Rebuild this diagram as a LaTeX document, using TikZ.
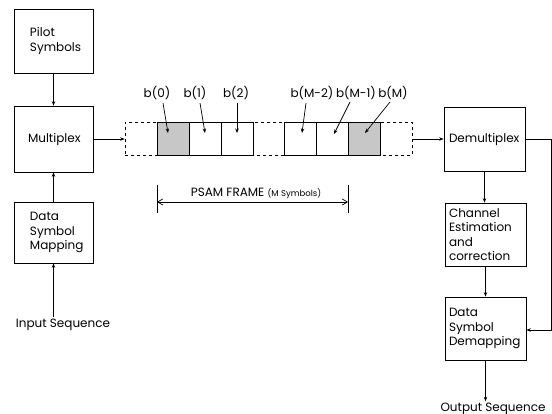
\documentclass[tikz,border=0pt]{standalone}
\usepackage{fontspec}
\setmainfont{Poppins}
\usetikzlibrary{arrows.meta}
\begin{document}
\begin{tikzpicture}[x=1pt,y=-1pt,
  box/.style={draw,line width=0.7pt,rectangle,align=left,font=\fontsize{12}{14.5}\selectfont},
  lbox/.style={box,minimum width=79pt,text width=79pt,inner xsep=0pt},
  rbox/.style={box,minimum width=81pt,text width=77pt,inner xsep=2pt},
  cell/.style={draw,line width=0.7pt,minimum width=32pt,minimum height=33pt,inner sep=0pt},
  shaded/.style={cell,fill=black!22},
  lbl/.style={font=\fontsize{12}{13}\selectfont,inner sep=1pt},
  conn/.style={line width=0.7pt,-{Stealth[length=4.5pt,width=3.5pt]}},
  plain/.style={line width=0.7pt}]
\useasboundingbox (0,0) rectangle (552,414);
% left column
\node[lbox,minimum height=64pt] (pilot) at (53.5,41) {\hspace*{16pt}Pilot\\\hspace*{16pt}Symbols};
\node[lbox,minimum height=66pt] (mux) at (53.5,139) {\hspace*{14pt}Multiplex};
\node[lbox,minimum height=61pt] (map) at (53.5,232.5) {\hspace*{16pt}Data\\\hspace*{16pt}Symbol\\\hspace*{16pt}Mapping};
\node[lbl,anchor=base] (in) at (63,327) {Input Sequence};
\draw[conn] (pilot) -- (mux);
\draw[conn] (map) -- (mux);
\draw[conn] (in.north -| map.south) -- (map);
% frame
\node[draw,dashed,line width=0.7pt,minimum width=287pt,minimum height=33pt,inner sep=0pt] (frame) at (268.5,138.5) {};
\node[shaded] (c0) at (173,138.5) {};
\node[cell] (c1) at (205,138.5) {};
\node[cell] (c2) at (237,138.5) {};
\node[cell] (cm2) at (300,138.5) {};
\node[cell] (cm1) at (332,138.5) {};
\node[shaded] (cm) at (364,138.5) {};
\node[lbl] (l0) at (157,93) {b(0)};
\node[lbl] (l1) at (195,93) {b(1)};
\node[lbl] (l2) at (236,93) {b(2)};
\node[lbl] (lm2) at (312,93) {b(M-2)};
\node[lbl] (lm1) at (356,93) {b(M-1)};
\node[lbl] (lm) at (393,93) {b(M)};
\draw[conn] (163,103) -- (168,133);
\draw[conn] (200,103) -- (205,133);
\draw[conn] (237,103) -- (237,133);
\draw[conn] (306,103) -- (302,133);
\draw[conn] (350,102) -- (334,134);
\draw[conn] (390,102) -- (365,133);
\draw[conn] (mux) -- (frame.west |- mux);
% PSAM frame dimension
\coordinate (tl) at (157,185);
\coordinate (tr) at (348,185);
\draw[plain] (tl) -- ++(0,28);
\draw[plain] (tr) -- ++(0,28);
\draw[line width=0.7pt,{Straight Barb[length=5pt,width=6pt]}-{Straight Barb[length=5pt,width=6pt]}] (157,202) -- (348,202);
\node[lbl,anchor=base] (psam) at (256,197) {PSAM FRAME {\fontsize{8.5}{9}\selectfont(M Symbols)}};
% right column
\node[rbox,minimum height=64pt] (demux) at (484.5,139) {\hspace*{3pt}Demultiplex};
\node[rbox,minimum height=63pt] (chan) at (485.5,234.5) {\hspace*{2pt}Channel\\\hspace*{2pt}Estimation\\\hspace*{2pt}and\\\hspace*{2pt}correction};
\node[rbox,minimum height=63pt] (demap) at (485.5,328.5) {\hspace*{2pt}Data\\\hspace*{2pt}Symbol\\\hspace*{2pt}Demapping};
\node[lbl,anchor=base] (out) at (493,411) {Output Sequence};
\draw[conn] (frame.east |- demux) -- (demux);
\draw[conn] (demux) -- (demux |- chan.north);
\draw[conn] (chan) -- (demap);
\draw[conn] (demap) -- (demap.south |- out.north);
\coordinate (r1) at (551.5,139);
\coordinate (r2) at (551.5,330);
\draw[conn] (demux.east) -- (r1) -- (r2) -- (demap.east |- r2);
\end{tikzpicture}
\end{document}
